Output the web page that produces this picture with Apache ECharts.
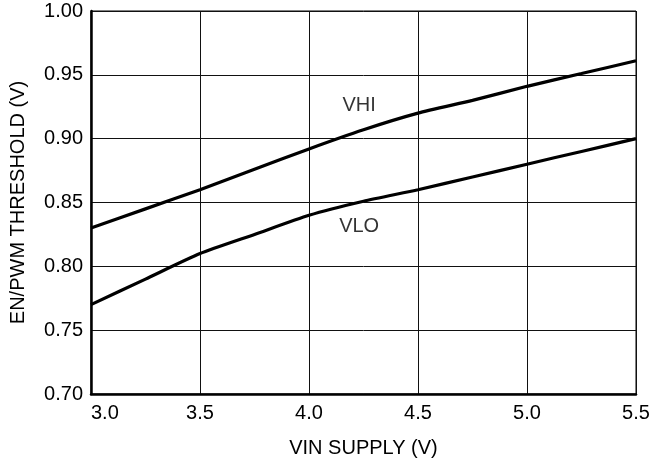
<!DOCTYPE html>
<html>
<head>
<meta charset="utf-8">
<script src="https://cdn.jsdelivr.net/npm/echarts@6/dist/echarts.min.js"></script>
<style>
html,body{margin:0;padding:0;background:#fff;}
#chart{width:654px;height:467px;}
</style>
</head>
<body>
<div id="chart"></div>
<script>
const vin = [3.0, 3.25, 3.5, 3.75, 4.0, 4.25, 4.5, 4.75, 5.0, 5.25, 5.5];
const vhi = [0.830, 0.845, 0.860, 0.876, 0.892, 0.907, 0.920, 0.930, 0.941, 0.951, 0.961];
const vlo = [0.770, 0.790, 0.810, 0.825, 0.840, 0.851, 0.860, 0.870, 0.880, 0.890, 0.900];
const curveLabels = [
  { name: 'VHI', x: 4.23, y: 0.926 },
  { name: 'VLO', x: 4.23, y: 0.831 }
];
const xTitle = 'VIN SUPPLY (V)';
const yTitle = 'EN/PWM THRESHOLD (V)';

const FONT = 'Liberation Sans, Arial, sans-serif';
const FS = 20;
const chart = echarts.init(document.getElementById('chart'));
const pairs = arr => vin.map((x, i) => [x, arr[i]]);
const lineStyle = { color: '#000', width: 3.2 };

chart.setOption({
  animation: false,
  backgroundColor: '#fff',
  grid: { left: 88, right: 18, top: 11, bottom: 73, show: true, borderColor: '#000', borderWidth: 1 },
  xAxis: {
    type: 'value', min: 3.0, max: 5.5, interval: 0.5,
    name: xTitle, nameLocation: 'middle', nameGap: 44,
    nameTextStyle: { color: '#000', fontSize: FS, fontFamily: FONT },
    axisLine: { lineStyle: { color: '#000', width: 2.5 } },
    axisTick: { show: false },
    axisLabel: { color: '#000', fontSize: FS, fontFamily: FONT, margin: 9, alignMinLabel: 'left',
      formatter: v => v.toFixed(1) },
    splitLine: { show: true, lineStyle: { color: '#111', width: 1 } }
  },
  yAxis: {
    type: 'value', min: 0.70, max: 1.00, interval: 0.05,
    name: yTitle, nameLocation: 'middle', nameGap: 63, nameRotate: 90,
    nameTextStyle: { color: '#000', fontSize: FS, fontFamily: FONT },
    axisLine: { show: true, lineStyle: { color: '#000', width: 2.5 } },
    axisTick: { show: false },
    axisLabel: { color: '#000', fontSize: FS, fontFamily: FONT, margin: 8,
      formatter: v => v.toFixed(2) },
    splitLine: { show: true, lineStyle: { color: '#111', width: 1 } }
  },
  series: [
    { type: 'line', data: pairs(vhi), showSymbol: false, symbol: 'none', lineStyle, smooth: 0.2, z: 5 },
    { type: 'line', data: pairs(vlo), showSymbol: false, symbol: 'none', lineStyle, smooth: 0.2, z: 5 },
    { type: 'scatter', symbolSize: 0, silent: true,
      data: curveLabels.map(l => ({ value: [l.x, l.y], name: l.name })),
      label: { show: true, position: 'inside', formatter: p => p.name, color: '#000', fontSize: FS, fontFamily: FONT } }
  ]
});
</script>
</body>
</html>
